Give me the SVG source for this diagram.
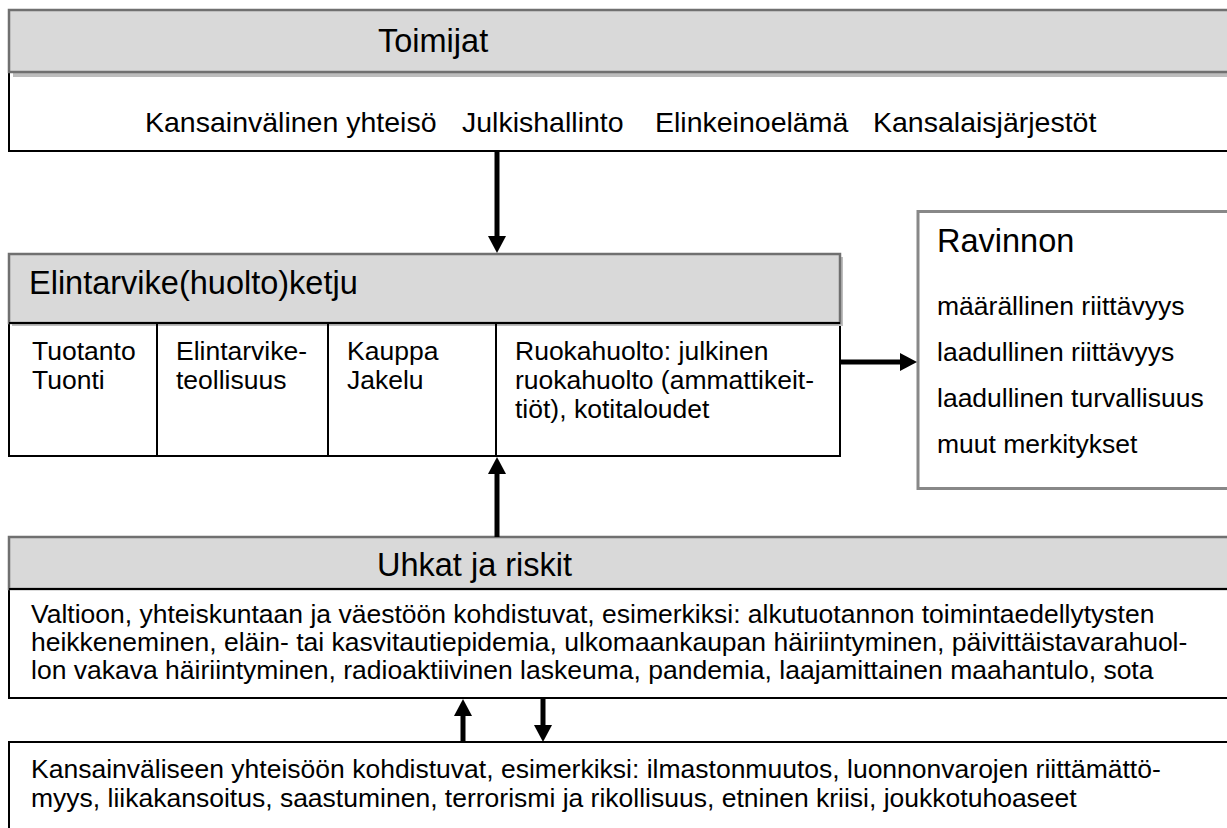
<svg xmlns="http://www.w3.org/2000/svg" width="1227" height="828" viewBox="0 0 1227 828">
<style>
text{font-family:"Liberation Sans",Arial,sans-serif;fill:#000}
.t{font-size:32.5px}
.r{font-size:28.5px}
.b{font-size:26.5px}
.hdr{fill:#d9d9d9;stroke:#707070;stroke-width:2.5}
.sh{fill:#bdbdbd}
.box{fill:#fff;stroke:#000;stroke-width:2}
.div{stroke:#000;stroke-width:2}
.arr{stroke:#000;stroke-width:5;fill:none;marker-end:url(#ah)}
</style>
<defs>
<marker id="ah" markerUnits="userSpaceOnUse" markerWidth="17" markerHeight="18" refX="2" refY="9" orient="auto" viewBox="0 0 17 18">
<path d="M0,0 L17,9 L0,18 Z" fill="#000"/>
</marker>
</defs>
<rect width="1227" height="828" fill="#fff"/>

<g id="toimijat">
<rect class="box" x="9" y="72" width="1240" height="79"/>
<rect class="sh" x="13" y="14" width="1240" height="63"/>
<rect class="hdr" x="9" y="10" width="1240" height="62"/>
<text class="t" x="378" y="52">Toimijat</text>
<text class="r" x="145" y="132">Kansainvälinen yhteisö</text>
<text class="r" x="462" y="132">Julkishallinto</text>
<text class="r" x="655" y="132">Elinkeinoelämä</text>
<text class="r" x="873" y="132">Kansalaisjärjestöt</text>
</g>

<g id="ketju">
<rect class="box" x="9" y="323" width="831" height="133"/>
<rect class="sh" x="12" y="257" width="831" height="69"/>
<rect class="hdr" x="9" y="254" width="831" height="69"/>
<line class="div" x1="157" y1="323" x2="157" y2="456"/>
<line class="div" x1="328" y1="323" x2="328" y2="456"/>
<line class="div" x1="496" y1="323" x2="496" y2="456"/>
<rect x="9" y="322" width="831" height="2" fill="#000"/>
<text class="t" x="29" y="294">Elintarvike(huolto)ketju</text>
<text class="b" x="32" y="360">Tuotanto</text>
<text class="b" x="32" y="389">Tuonti</text>
<text class="b" x="176" y="360">Elintarvike-</text>
<text class="b" x="176" y="389">teollisuus</text>
<text class="b" x="347" y="360">Kauppa</text>
<text class="b" x="347" y="389">Jakelu</text>
<text class="b" x="515" y="360">Ruokahuolto: julkinen</text>
<text class="b" x="515" y="389">ruokahuolto (ammattikeit-</text>
<text class="b" x="515" y="418">tiöt), kotitaloudet</text>
</g>

<g id="ravinnon">
<rect x="918" y="211.5" width="330" height="277" fill="#fff" stroke="#888" stroke-width="3"/>
<text class="t" x="937" y="252">Ravinnon</text>
<text class="b" x="937" y="315">määrällinen riittävyys</text>
<text class="b" x="937" y="361">laadullinen riittävyys</text>
<text class="b" x="937" y="407">laadullinen turvallisuus</text>
<text class="b" x="937" y="453">muut merkitykset</text>
</g>

<g id="uhkat">
<rect class="box" x="9" y="589" width="1240" height="109" stroke-width="2.5"/>
<rect class="sh" x="12" y="540" width="1240" height="50"/>
<rect class="hdr" x="9" y="537" width="1240" height="52"/>
<rect x="9" y="588" width="1240" height="2" fill="#000"/>
<text class="t" x="377" y="576">Uhkat ja riskit</text>
<text class="b" x="31" y="623">Valtioon, yhteiskuntaan ja väestöön kohdistuvat, esimerkiksi: alkutuotannon toimintaedellytysten</text>
<text class="b" x="31" y="651">heikkeneminen, eläin- tai kasvitautiepidemia, ulkomaankaupan häiriintyminen, päivittäistavarahuol-</text>
<text class="b" x="31" y="679">lon vakava häiriintyminen, radioaktiivinen laskeuma, pandemia, laajamittainen maahantulo, sota</text>
</g>

<g id="kansainvalinen">
<rect class="box" x="9" y="742" width="1240" height="100" stroke-width="1.5"/>
<text class="b" x="31" y="778">Kansainväliseen yhteisöön kohdistuvat, esimerkiksi: ilmastonmuutos, luonnonvarojen riittämättö-</text>
<text class="b" x="31" y="807">myys, liikakansoitus, saastuminen, terrorismi ja rikollisuus, etninen kriisi, joukkotuhoaseet</text>
</g>

<g id="connectors">
<line class="arr" x1="497" y1="151" x2="497" y2="238"/>
<line class="arr" x1="497" y1="537" x2="497" y2="472"/>
<line class="arr" x1="840" y1="362" x2="902" y2="362"/>
<line class="arr" x1="463" y1="742" x2="463" y2="714"/>
<line class="arr" x1="543" y1="698" x2="543" y2="727"/>
</g>
</svg>
